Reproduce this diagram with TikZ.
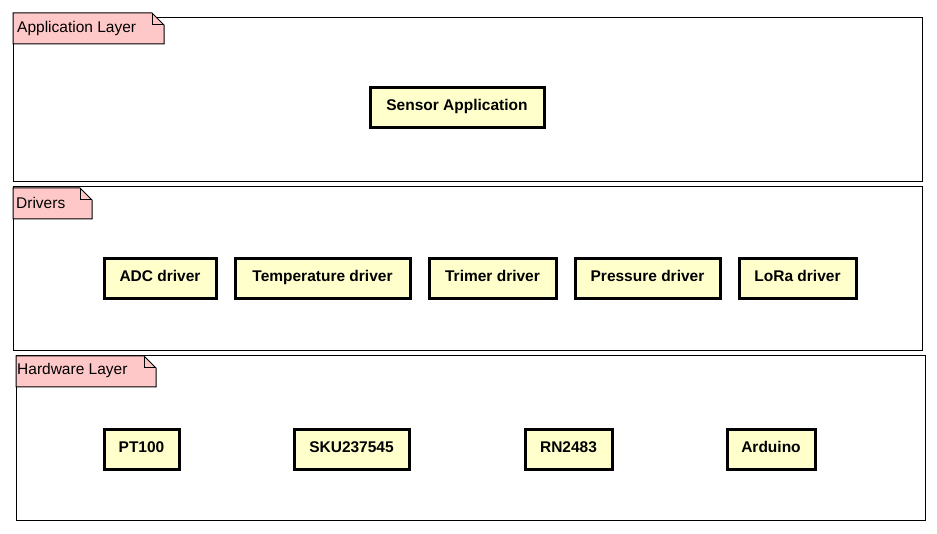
\documentclass[tikz,border=0pt]{standalone}
\usepackage{fontspec}
\setmainfont{Liberation Sans}
\begin{document}
\begin{tikzpicture}[x=1pt,y=-1pt,
  comp/.style={draw=black,line width=3pt,fill={rgb,255:red,255;green,255;blue,204},inner sep=0pt},
  frame/.style={draw=black,line width=1pt},
  tabfill/.style={draw=black,line width=1pt,fill={rgb,255:red,255;green,200;blue,200}},
  lbl/.style={font=\fontsize{15.5}{17}\selectfont\bfseries,anchor=base,inner sep=0pt},
  tablbl/.style={font=\fontsize{15.5}{17}\selectfont,anchor=base west,inner sep=0pt}]
\useasboundingbox (0,0) rectangle (937,534);
\fill[white] (0,0) rectangle (937,534);
% frames
\draw[frame] (13,18) rectangle (922,182);
\draw[frame] (13,187) rectangle (922,351);
\draw[frame] (16,356) rectangle (925,520);
% tabs
\draw[tabfill] (13,13) -- (152,13) -- (164,25) -- (164,44) -- (13,44) -- cycle;
\draw[frame] (152,13) -- (152,25) -- (164,25);
\node[tablbl] (tapp) at (17,33) {Application Layer};
\draw[tabfill] (13,188) -- (80,188) -- (92,200) -- (92,219) -- (13,219) -- cycle;
\draw[frame] (80,188) -- (80,200) -- (92,200);
\node[tablbl] (tdrv) at (16,209) {Drivers};
\draw[tabfill] (16,356) -- (144,356) -- (156,368) -- (156,387) -- (16,387) -- cycle;
\draw[frame] (144,356) -- (144,368) -- (156,368);
\node[tablbl] (thw) at (17,375) {Hardware Layer};
% components
\newcommand{\comp}[6]{%
  \draw[comp] (#2,#3) rectangle (#4,#5);
  \node[lbl] (#1) at ({(#2+#4)/2},{#3+23}) {#6};}
\comp{app}{370}{88}{544}{128}{Sensor Application}
\comp{adc}{104}{259}{216}{299}{ADC driver}
\comp{temp}{235}{259}{410}{299}{Temperature driver}
\comp{trim}{429}{259}{556}{299}{Trimer driver}
\comp{pres}{575}{259}{720}{299}{Pressure driver}
\comp{lora}{739}{259}{856}{299}{LoRa driver}
\comp{pt}{104}{429}{179}{469}{PT100}
\comp{sku}{294}{429}{409}{469}{SKU237545}
\comp{rn}{525}{429}{612}{469}{RN2483}
\comp{ard}{727}{429}{815}{469}{Arduino}
\end{tikzpicture}
\end{document}
